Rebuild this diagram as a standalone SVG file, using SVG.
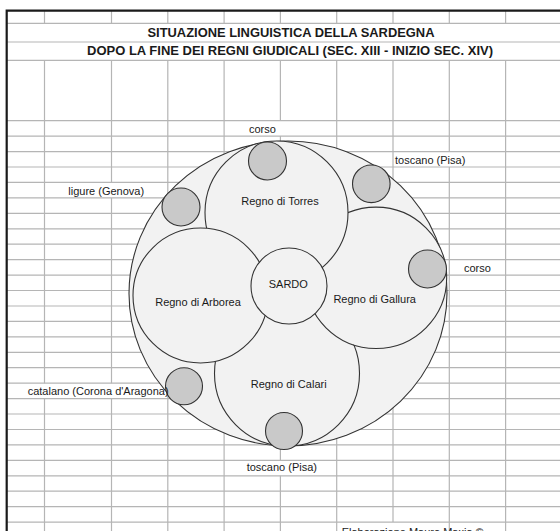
<svg xmlns="http://www.w3.org/2000/svg" width="560" height="531" viewBox="0 0 560 531">
<style>
.grid{stroke:#b5b5b5;stroke-width:1.2;fill:none}
.border{stroke:#1a1a1a;stroke-width:2.2;fill:none}
.big{fill:#f2f2f2;stroke:#333;stroke-width:1.1}
.small{fill:#c9c9c9;stroke:#333;stroke-width:1.1}
text{font-family:"Liberation Sans",Arial,sans-serif;fill:#1a1a1a;font-size:11px}
.title{font-weight:bold;font-size:12.5px;text-anchor:middle}
.mid{text-anchor:middle}
</style>
<rect width="560" height="531" fill="#fff"/>
<g id="grid">
<path class="grid" d="M7 23.3H560M7 42H560M7 60.3H560M7 120.7H560M7 136.1H560M7 151.6H560M7 167H560M7 182.4H560M7 197.9H560M7 213.3H560M7 228.8H560M7 244.2H560M7 259.6H560M7 275.1H560M7 290.5H560M7 306H560M7 321.4H560M7 336.8H560M7 352.3H560M7 367.7H560M7 383.2H560M7 398.6H560M7 414H560M7 429.5H560M7 444.9H560M7 460.4H560M7 475.8H560M7 491.2H560M7 506.7H560M7 522.1H560"/>
<path class="grid" d="M44.5 10.7V23.3M44.5 60.3V383.2M44.5 398.6V531
M111.5 10.7V23.3M111.5 60.3V182.4M111.5 197.9V383.2M111.5 398.6V531
M167.8 10.7V23.3M167.8 60.3V531
M224.1 10.7V23.3M224.1 60.3V531
M280.4 10.7V23.3M280.4 60.3V120.7M280.4 136.1V460.4M280.4 475.8V531
M336.7 10.7V23.3M336.7 60.3V531
M393 10.7V23.3M393 60.3V522.1
M449.3 10.7V23.3M449.3 60.3V151.6M449.3 167V531
M505.6 10.7V23.3M505.6 60.3V531"/>
<path class="border" d="M6.7 531V10.7H560"/>
</g>
<g id="titles">
<text class="title" x="291" y="37" textLength="287" lengthAdjust="spacingAndGlyphs">SITUAZIONE LINGUISTICA DELLA SARDEGNA</text>
<text class="title" x="290" y="55.3" textLength="406" lengthAdjust="spacingAndGlyphs">DOPO LA FINE DEI REGNI GIUDICALI (SEC. XIII - INIZIO SEC. XIV)</text>
</g>
<g id="sardegna">
<ellipse class="big" cx="288" cy="293.5" rx="159" ry="152.5"/>
</g>
<g id="calari">
<circle class="big" cx="287" cy="373.5" r="72.5"/>
<text class="mid" x="288.7" y="388">Regno di Calari</text>
</g>
<g id="gallura">
<circle class="big" cx="376" cy="277.8" r="70.7"/>
<text class="mid" x="374.7" y="302.5">Regno di Gallura</text>
</g>
<g id="torres">
<circle class="big" cx="276.5" cy="212.5" r="71.5"/>
<text class="mid" x="280" y="205">Regno di Torres</text>
</g>
<g id="arborea">
<circle class="big" cx="200.5" cy="295.5" r="67.5"/>
<text class="mid" x="198" y="306">Regno di Arborea</text>
</g>
<g id="sardo">
<circle class="big" cx="289" cy="286" r="38"/>
<text class="mid" x="288.3" y="288">SARDO</text>
</g>
<g id="corso-nord">
<circle class="small" cx="267.5" cy="161" r="19"/>
<text x="249" y="132.5">corso</text>
</g>
<g id="toscano-nord">
<circle class="small" cx="371.3" cy="183.8" r="18.8"/>
<text x="395" y="163.5">toscano (Pisa)</text>
</g>
<g id="ligure">
<circle class="small" cx="181" cy="207" r="19"/>
<text x="68.3" y="194.8">ligure (Genova)</text>
</g>
<g id="corso-est">
<circle class="small" cx="427.5" cy="269" r="19"/>
<text x="464" y="271.5">corso</text>
</g>
<g id="catalano">
<circle class="small" cx="184" cy="386.3" r="18.5"/>
<text x="27.7" y="395">catalano (Corona d'Aragona)</text>
</g>
<g id="toscano-sud">
<circle class="small" cx="284" cy="431" r="18.5"/>
<text x="246.7" y="470.5">toscano (Pisa)</text>
</g>
<g id="credit">
<text x="341.7" y="535.5" font-size="8.2">Elaborazione Mauro Maxia ©</text>
</g>
</svg>
